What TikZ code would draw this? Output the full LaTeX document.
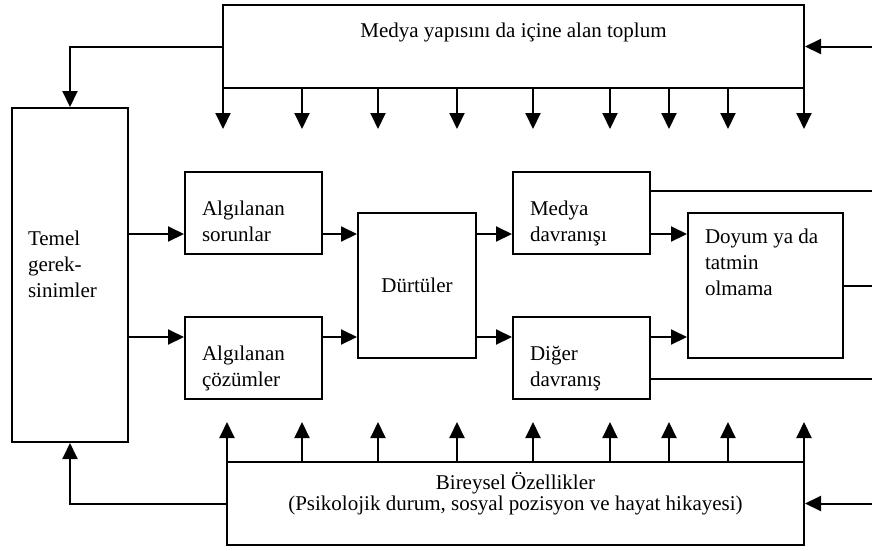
\documentclass[tikz,border=0pt]{standalone}
\usepackage{fontspec}
\setmainfont{Liberation Serif}
\usetikzlibrary{arrows.meta}
\begin{document}
\begin{tikzpicture}[x=1pt, y=-1pt, line width=2pt,
    font=\fontsize{21}{26}\selectfont,
    box/.style={draw, inner sep=0pt},
    cell/.style={box, minimum width=137pt, minimum height=82pt, inner xsep=17pt,
        text width=103pt, align=left, text depth=10pt},
    lbl/.style={inner sep=0pt},
    arr/.style={-{Triangle[width=15pt,length=16pt]}}]
    \useasboundingbox (0,0) rectangle (872,550);
    \node[box, minimum width=581pt, minimum height=83pt,
        label={[lbl, anchor=north, yshift=-17.7pt]north:Medya yapısını da içine alan toplum}] (soc) at (513.5,46.5) {};
    \node[box, minimum width=577pt, minimum height=83pt,
        label={[lbl, anchor=south, align=center, yshift=30.4pt, font=\fontsize{21}{19}\selectfont]south:Bireysel Özellikler\\(Psikolojik durum, sosyal pozisyon ve hayat hikayesi)}] (birey) at (515.5,503.5) {};
    \node[box, minimum width=116pt, minimum height=334pt,
        label={[lbl, anchor=north west, align=left, xshift=16pt, yshift=-122.7pt]north west:Temel\\gerek-\\sinimler}] (temel) at (70,275) {};
    \node[cell] (sorun) at (253.5,213) {Algılanan\\sorunlar};
    \node[cell] (cozum) at (253.5,358) {Algılanan\\çözümler};
    \node[box, minimum width=118pt, minimum height=145pt] (durtu) at (417,285.5) {Dürtüler};
    \node[cell] (mdav) at (581.5,213) {Medya\\davranışı};
    \node[cell] (diger) at (581.5,358) {Diğer\\davranış};
    \node[box, minimum width=155pt, minimum height=145pt,
        label={[lbl, anchor=north west, align=left, xshift=17pt, yshift=-15.7pt]north west:Doyum ya da\\tatmin\\olmama}] (doyum) at (765.5,285.5) {};

    \coordinate (redge) at (872,0);
    \coordinate (r1) at (0,234);
    \coordinate (r2) at (0,337);
    \coordinate (mout) at ([yshift=-20pt]mdav.north east);
    \coordinate (dout) at ([yshift=21pt]diger.south east);

    \draw[arr] (soc.west) -| (temel.north);
    \draw[arr] (birey.west) -| (temel.south);
    \draw[arr] (redge |- soc.east) -- (soc.east);
    \draw[arr] (redge |- birey.east) -- (birey.east);
    \foreach \x in {223,302,378,457,533,610,669,728,804}
        \draw[arr] (soc.south -| \x,0) -- ++(0,40);
    \foreach \x in {227,302,378,457,533,610,669,728,804}
        \draw[arr] (birey.north -| \x,0) -- ++(0,-39);
    \foreach \a/\b in {temel/sorun, sorun/durtu, durtu/mdav, mdav/doyum}
        \draw[arr] (\a.east |- r1) -- (\b.west |- r1);
    \foreach \a/\b in {temel/cozum, cozum/durtu, durtu/diger, diger/doyum}
        \draw[arr] (\a.east |- r2) -- (\b.west |- r2);
    \draw (mout) -- (mout -| redge);
    \draw (doyum.east) -- (doyum.east -| redge);
    \draw (dout) -- (dout -| redge);
\end{tikzpicture}
\end{document}
